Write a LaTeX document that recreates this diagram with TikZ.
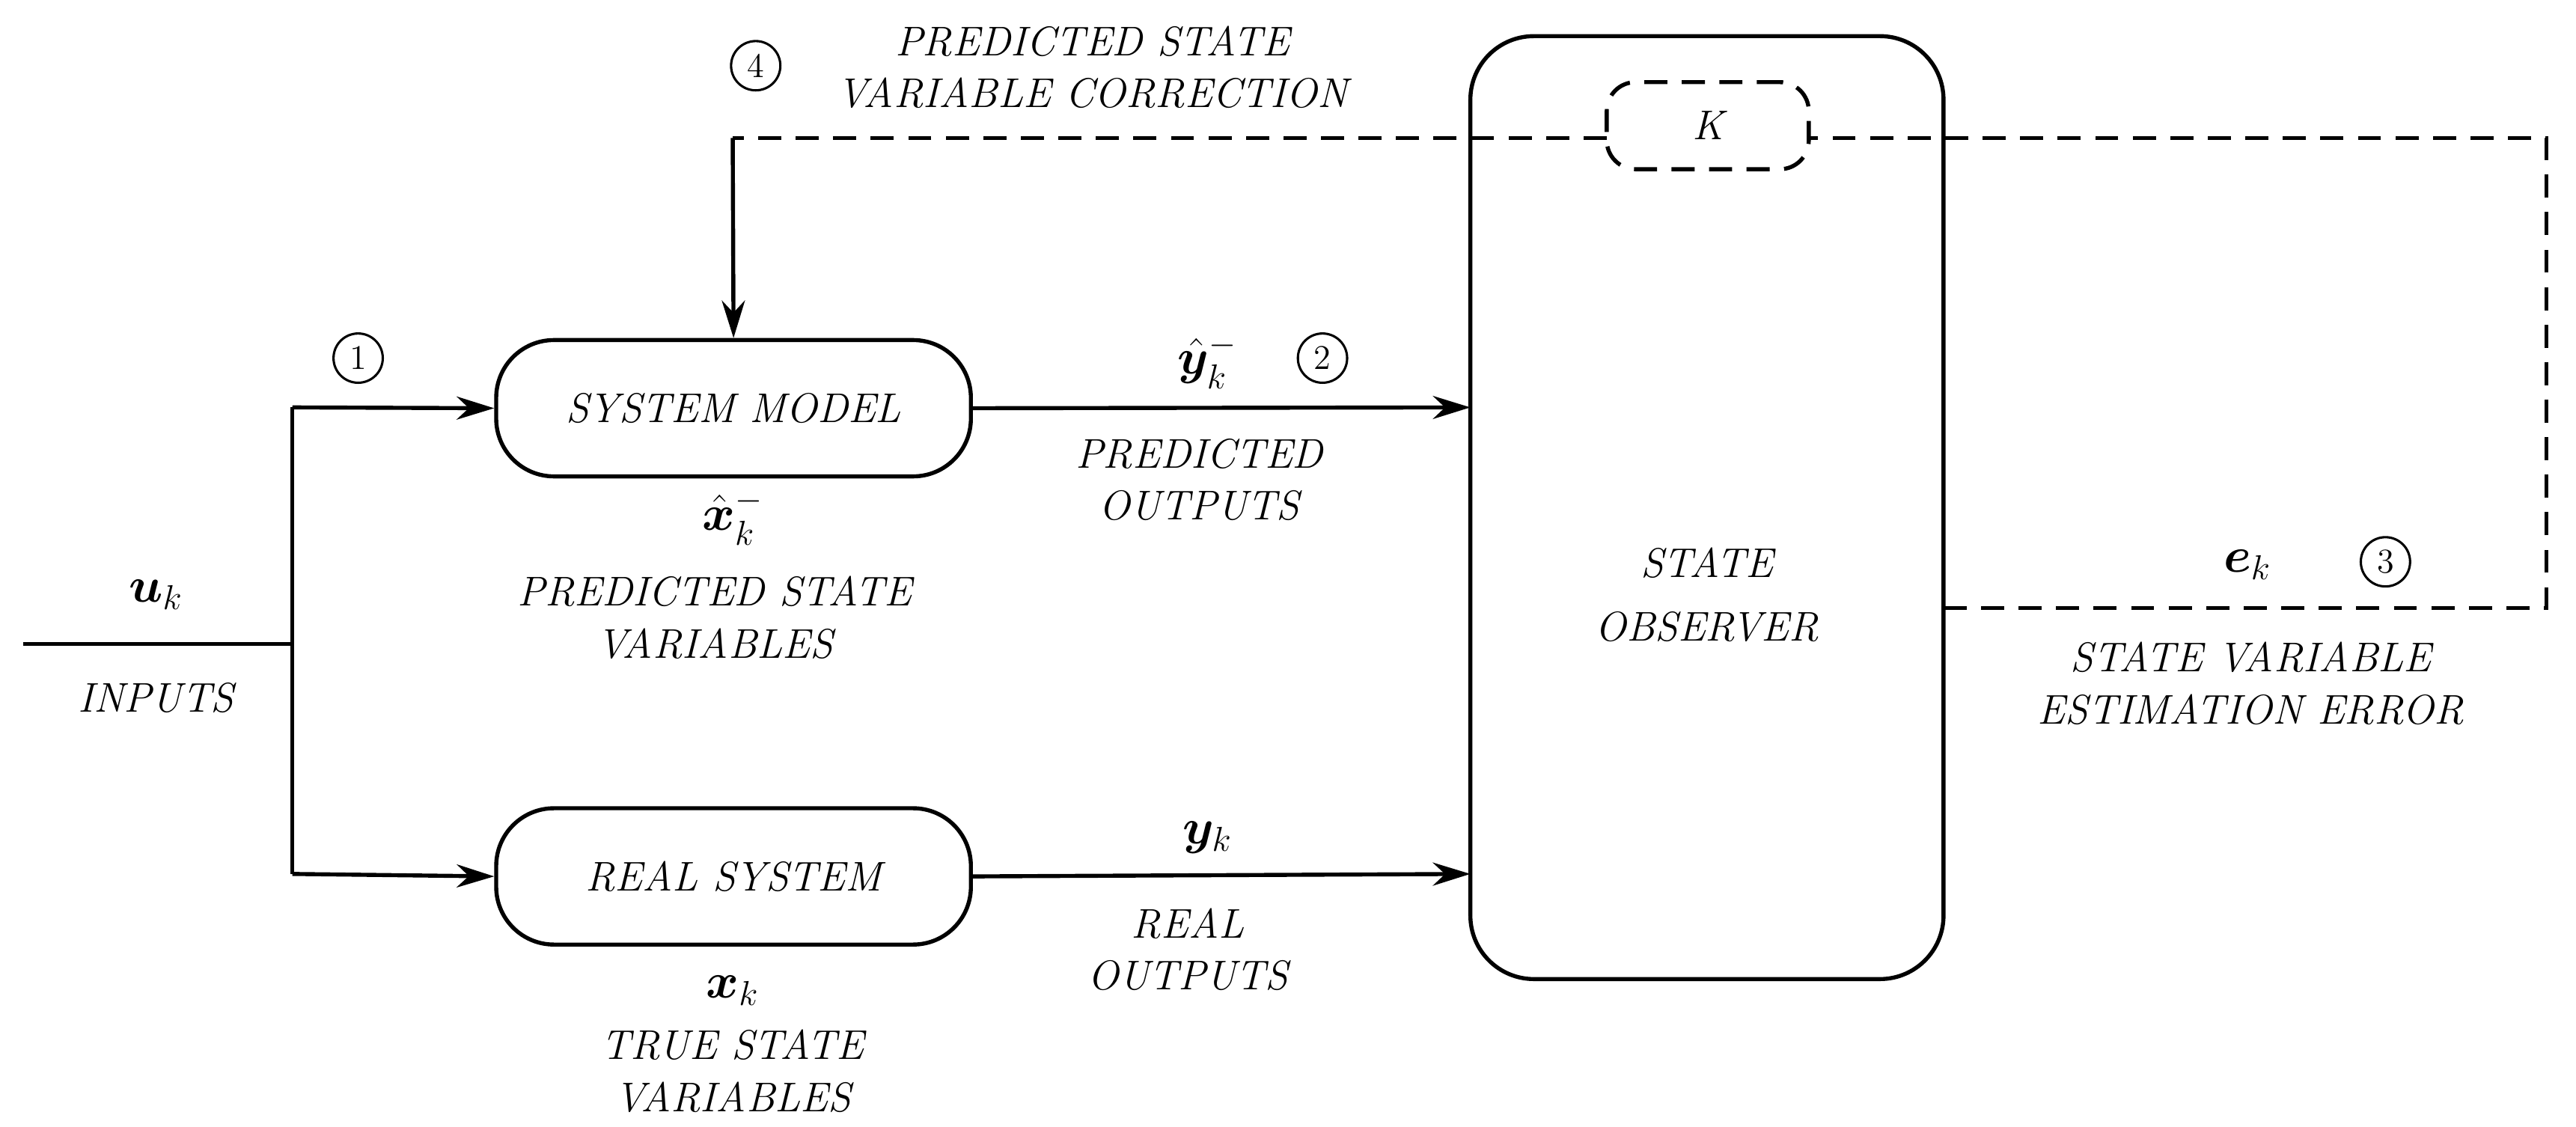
\documentclass[tikz,border=0pt]{standalone}
\usepackage{amsmath,bm}
\usetikzlibrary{arrows.meta}
\begin{document}
\begin{tikzpicture}[x=0.02cm,y=-0.02cm,
  line width=1.4pt,
  blk/.style={draw,rounded corners=20pt,minimum width=5.78cm,minimum height=1.66cm,font=\Large\itshape},
  lbl/.style={font=\Large\itshape,align=center,inner sep=0pt},
  mth/.style={font=\LARGE,inner sep=0pt},
  num/.style={draw,circle,line width=0.8pt,minimum size=0.6cm,inner sep=0pt,font=\large},
  arr/.style={-{Stealth[length=13pt,width=8pt]}},
  dsh/.style={dash pattern=on 8pt off 5pt}]
\useasboundingbox (0,0) rectangle (1568,686);
\node[blk] (sm) at (446.5,248.5) {SYSTEM MODEL};
\node[blk] (rs) at (446.5,533.5) {REAL SYSTEM};
\draw[rounded corners=22pt] (895,22) rectangle (1183,596);
\node[lbl] (so) at (1039,362) {STATE\\[4pt]OBSERVER};
\node[draw,dsh,rounded corners=10pt,minimum width=2.46cm,minimum height=1.06cm,font=\Large\itshape] (K) at (1039.5,76.5) {K};
\coordinate (in) at (14,392);
\coordinate (j) at (178,392);
\coordinate (jt) at (178,248);
\coordinate (jb) at (178,532);
\draw (in) -- (j);
\draw (jt) -- (jb);
\draw[arr] (jt) -- (sm.west);
\draw[arr] (jb) -- (rs.west);
\coordinate (ot) at (895,248);
\coordinate (ob) at (895,532);
\draw[arr] (sm.east) -- (ot);
\draw[arr] (rs.east) -- (ob);
\coordinate (e1) at (1183,370);
\coordinate (e2) at (1550,370);
\coordinate (e3) at (1550,84);
\coordinate (k1) at (1101,84);
\coordinate (k2) at (978,84);
\coordinate (c1) at (446,84);
\draw[dsh] (e1) -- (e2) -- (e3) -- (k1);
\draw[dsh] (k2) -- (c1);
\draw[arr] (c1) -- (sm.north);
\node[mth] (u) at (95,362) {$\bm{u}_k$};
\node[lbl] (ui) at (95,425) {INPUTS};
\node[num] (n1) at (218,218) {1};
\node[mth] (xh) at (446,315) {$\hat{\bm{x}}_k^-$};
\node[lbl] (xhl) at (435,376) {PREDICTED STATE\\VARIABLES};
\node[mth] (x) at (446,603) {$\bm{x}_k$};
\node[lbl] (xl) at (446,652) {TRUE STATE\\VARIABLES};
\node[mth] (yh) at (735,220) {$\hat{\bm{y}}_k^-$};
\node[num] (n2) at (805,218) {2};
\node[lbl] (yhl) at (730,292) {PREDICTED\\OUTPUTS};
\node[mth] (y) at (735,510) {$\bm{y}_k$};
\node[lbl] (yl) at (723,578) {REAL\\OUTPUTS};
\node[mth] (e) at (1368,344) {$\bm{e}_k$};
\node[num] (n3) at (1452,342) {3};
\node[lbl] (el) at (1370,416) {STATE VARIABLE\\ESTIMATION ERROR};
\node[num] (n4) at (460,40) {4};
\node[lbl] (cl) at (665,41) {PREDICTED STATE\\VARIABLE CORRECTION};
\end{tikzpicture}
\end{document}
